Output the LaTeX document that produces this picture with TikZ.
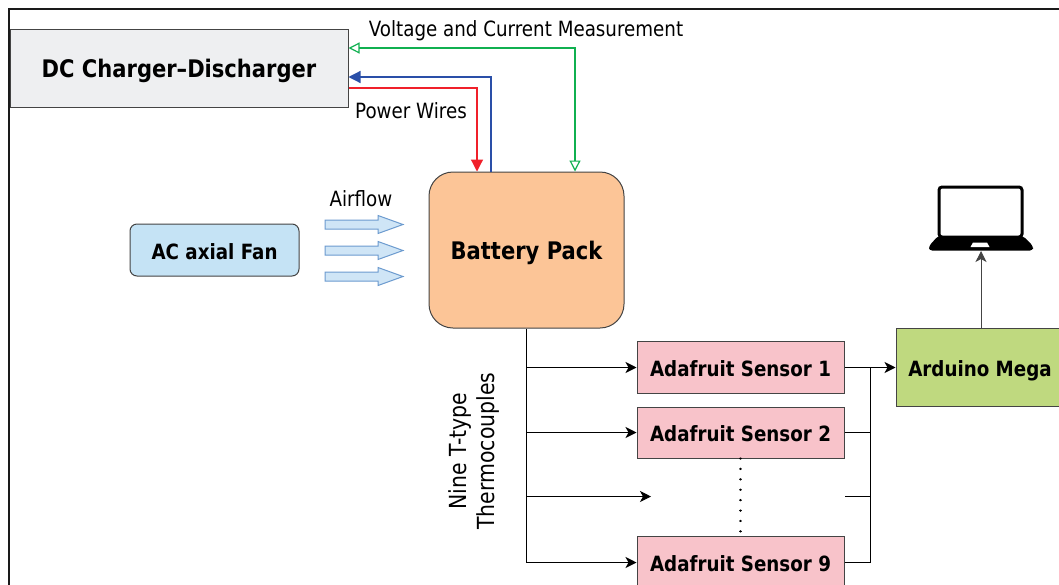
\documentclass[tikz,border=0pt]{standalone}
\usepackage{fontspec}
\setmainfont{DejaVu Sans}[FakeStretch=0.87]
\usetikzlibrary{arrows.meta,calc}
\definecolor{gframe}{HTML}{1A1A1A}
\definecolor{gline}{HTML}{444444}
\definecolor{cgreen}{HTML}{10B050}
\definecolor{cblue}{HTML}{2A4FA8}
\definecolor{cred}{HTML}{F0202A}
\definecolor{fdc}{HTML}{EEEFF1}
\definecolor{fbat}{HTML}{FCC597}
\definecolor{ffan}{HTML}{C5E3F5}
\definecolor{fsen}{HTML}{F8C3CA}
\definecolor{fard}{HTML}{BFD97F}
\definecolor{fair}{HTML}{6C9BCF}
\definecolor{fairin}{HTML}{CFE5F6}
\tikzset{
  x=1pt,y=-1pt,
  box/.style={draw=gline,line width=1pt,inner sep=0pt,align=center,text height=18pt,text depth=0pt,font=\fontsize{21}{24}\selectfont\bfseries},
  bigbox/.style={box,text height=19pt,font=\fontsize{24.2}{26}\selectfont\bfseries},
  lbl/.style={inner sep=0pt,font=\fontsize{21}{27}\selectfont,align=center},
  vlbl/.style={lbl,font=\fontsize{23.5}{28}\selectfont},
  conn/.style={line width=1pt,draw=black},
  solidhead/.style={-{Stealth[length=11pt,width=11pt,inset=3pt]}},
  filledtip/.style={-{Triangle[length=12pt,width=12pt,fill=#1]}},
  opentip/.style={{Triangle[open,length=11pt,width=11pt,line width=1.2pt]}-{Triangle[open,length=11pt,width=11pt,line width=1.2pt]}},
  airarrow/.style={draw=fair,fill=fairin,line width=1pt},
}
\newcommand{\airflowarrow}[1]{%
  \draw[airarrow] (325,#1-4.5) -- (378,#1-4.5) -- (378,#1-9) -- (403,#1) -- (378,#1+9) -- (378,#1+4.5) -- (325,#1+4.5) -- cycle;}
\begin{document}
\begin{tikzpicture}
\useasboundingbox (0,0) rectangle (1059,584);
\clip (0,0) rectangle (1059,584);
\fill[white] (0,0) rectangle (1059,584);
\draw[line width=2pt,draw=gframe] (8.5,600) -- (8.5,8.5) -- (1070,8.5);

\node[bigbox,fill=fdc,minimum width=338pt,minimum height=78pt] (dc) at (179,68) {DC Charger--Discharger};
\node[bigbox,fill=fbat,minimum width=195pt,minimum height=156pt,rounded corners=24pt] (bat) at (526.5,250) {Battery Pack};
\node[box,fill=ffan,minimum width=169pt,minimum height=52pt,rounded corners=7pt] (fan) at (214.5,250) {AC axial Fan};
\node[box,fill=fsen,minimum width=207pt,minimum height=52pt] (s1) at (740.5,367.5) {Adafruit Sensor 1};
\node[box,fill=fsen,minimum width=207pt,minimum height=51pt] (s2) at (740.5,432.5) {Adafruit Sensor 2};
\node[box,fill=fsen,minimum width=207pt,minimum height=52pt] (s9) at (740.5,562.5) {Adafruit Sensor 9};
\node[box,fill=fard,minimum width=168pt,minimum height=78pt] (ard) at (980,367.5) {Arduino Mega};

\airflowarrow{224.5}
\airflowarrow{250.5}
\airflowarrow{276.5}

\node[lbl] (lv) at (526,30.5) {Voltage and Current Measurement};
\node[lbl] (lp) at (411,111) {Power Wires};
\node[lbl] (la) at (361,198.5) {Airflow};
\node[vlbl,rotate=90] (lt) at (474,451) {Nine T-type\\Thermocouples};

% laptop
\node[draw=black,line width=3pt,rounded corners=3pt,minimum width=83pt,minimum height=50pt,inner sep=0pt] (scr) at (980.5,212) {};
\fill[black,rounded corners=3pt] (938,236) -- (1023,236) -- (1033,246) -- (1033,250.5) -- (929,250.5) -- (929,246) -- cycle;
\fill[white] (973,242.5) -- (987,242.5) -- (989.5,247) -- (970.5,247) -- cycle;
\coordinate (lap) at (981,251);

% power and measurement wires
\coordinate (gj) at (575,48);
\draw[opentip,line width=1.3pt,draw=cgreen] (dc.east|-gj) -- (gj) -- (gj|-bat.north);
\coordinate (bj) at (491,77);
\draw[filledtip=cblue,line width=1.2pt,draw=cblue] (bj|-bat.north) -- (bj) -- (dc.east|-bj);
\coordinate (rj) at (477,88);
\draw[filledtip=cred,line width=1.2pt,draw=cred] (dc.east|-rj) -- (rj) -- (rj|-bat.north);

% thermocouple bus
\coordinate (t1) at (bat.south|-s1.west);
\coordinate (t2) at (bat.south|-s2.west);
\coordinate (t3) at (526.5,496.5);
\coordinate (t9) at (bat.south|-s9.west);
\coordinate (e3) at (651,496.5);
\draw[conn] (bat.south) -- (t9);
\draw[conn,solidhead] (t1) -- (s1.west);
\draw[conn,solidhead] (t2) -- (s2.west);
\draw[conn,solidhead] (t3) -- (e3);
\draw[conn,solidhead] (t9) -- (s9.west);

% sensor bus
\coordinate (b1) at (870.5,367.5);
\coordinate (b2) at (870.5,432.5);
\coordinate (b3) at (870.5,496.5);
\coordinate (b9) at (870.5,562.5);
\coordinate (f3) at (845,496.5);
\draw[conn,solidhead] (s1.east) -- (ard.west);
\draw[conn] (b1) -- (b9);
\draw[conn] (s2.east) -- (b2);
\draw[conn] (f3) -- (b3);
\draw[conn] (s9.east) -- (b9);
\draw[line width=2.4pt,line cap=round,dash pattern=on 0.01pt off 10.4pt] (s2.south) -- (s9.north);
\draw[conn,draw=gline,solidhead] (ard.north-|lap) -- (lap);
\end{tikzpicture}
\end{document}
